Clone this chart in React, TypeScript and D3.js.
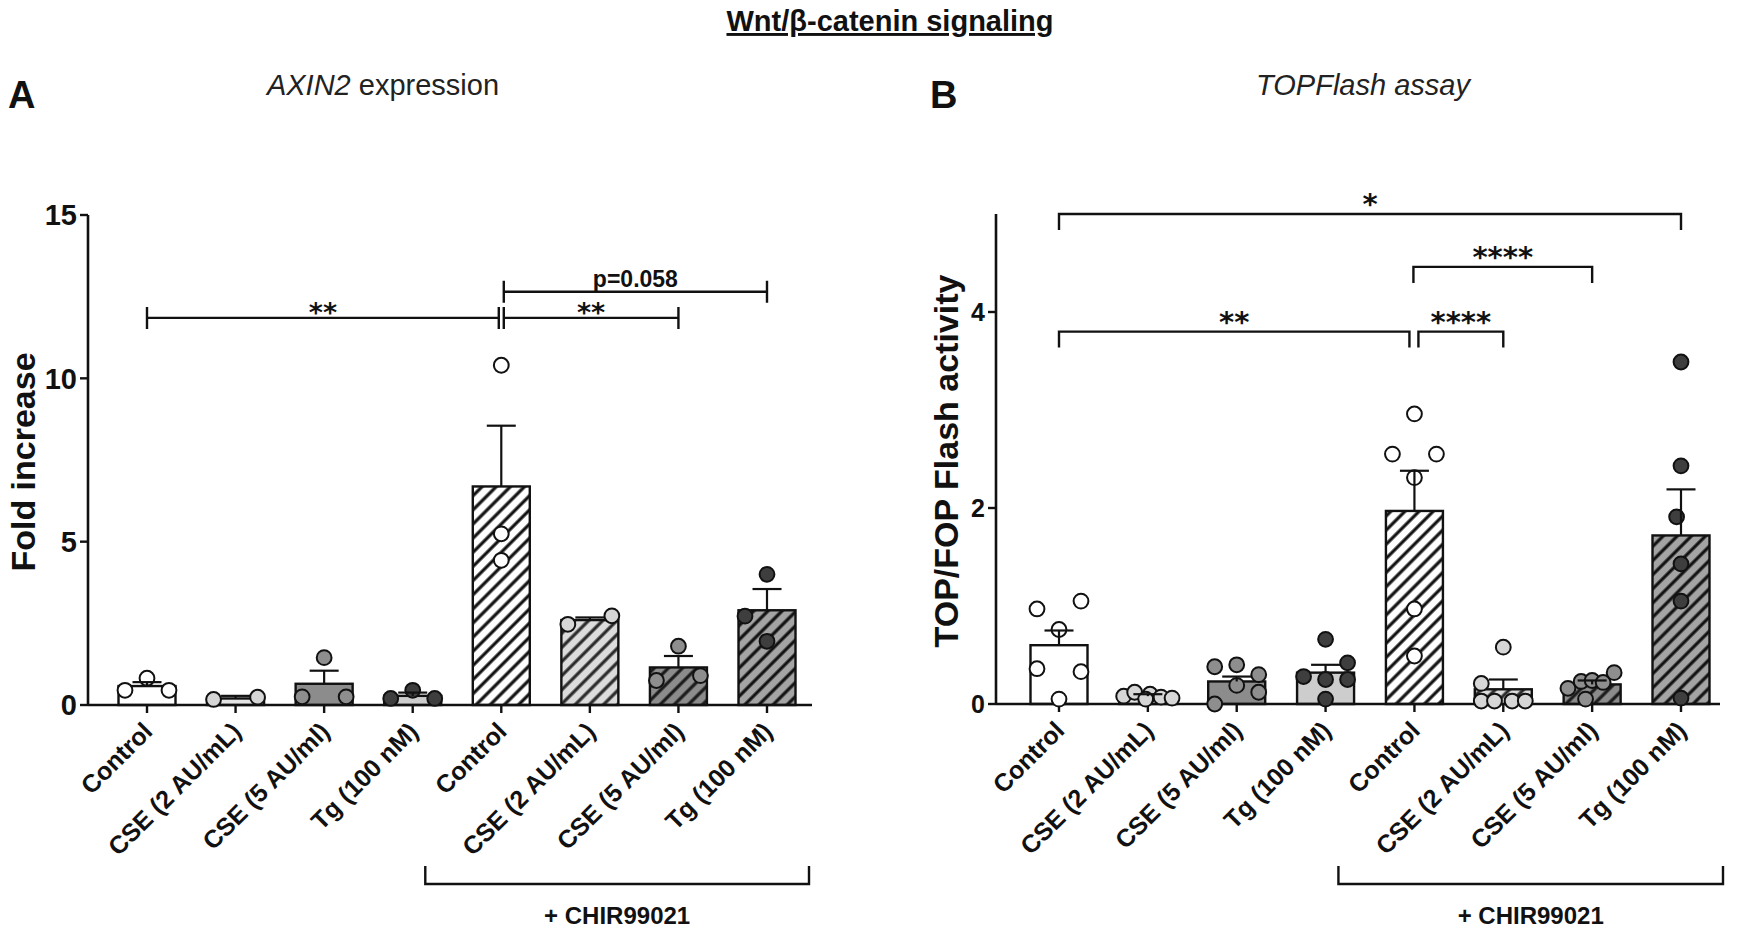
// Wnt/β-catenin signaling: AXIN2 expression (A) and TOPFlash assay (B)
// Prism-style bar + scatter + SEM charts drawn with d3 scales
import * as d3 from "d3"

const groups = ["Control", "CSE (2 AU/mL)", "CSE (5 AU/ml)", "Tg (100 nM)", "Control", "CSE (2 AU/mL)", "CSE (5 AU/ml)", "Tg (100 nM)"]

// Panel A: AXIN2 fold increase
const axinMean = [0.58, 0.2, 0.65, 0.28, 6.69, 2.6, 1.15, 2.9]
const axinSem = [0.12, 0.08, 0.4, 0.1, 1.86, 0.08, 0.35, 0.65]
const axinPoints = [
  [0.82, 0.45, 0.45],
  [0.17, 0.24],
  [1.45, 0.25, 0.25],
  [0.45, 0.2, 0.2],
  [10.4, 5.24, 4.43],
  [2.47, 2.73],
  [1.8, 0.75, 0.9],
  [4.0, 2.72, 1.95],
]
const axinSlots = [[0, -1, 1], [-1, 1], [0, -1, 1], [0, -1, 1], [0, 0, 0], [-1, 1], [0, -1, 1], [0, -1, 0]]
const axinTicks = [0, 5, 10, 15]

// Panel B: TOP/FOP flash activity
const topMean = [0.6, 0.08, 0.23, 0.32, 1.97, 0.15, 0.2, 1.72]
const topSem = [0.15, 0.02, 0.05, 0.08, 0.41, 0.1, 0.04, 0.47]
const topPoints = [
  [0.97, 1.05, 0.76, 0.36, 0.33, 0.05],
  [0.08, 0.12, 0.1, 0.05, 0.07, 0.06],
  [0.38, 0.4, 0.3, 0.19, 0.12, 0.0],
  [0.66, 0.42, 0.28, 0.25, 0.25, 0.05],
  [2.96, 2.55, 2.55, 2.31, 0.97, 0.49],
  [0.58, 0.21, 0.03, 0.03, 0.03, 0.03],
  [0.16, 0.23, 0.24, 0.22, 0.32, 0.05],
  [3.49, 2.43, 1.91, 1.43, 1.05, 0.06],
]
const topSlots = [
  [-1, 1, 0, -1, 1, 0],
  [-1.1, -0.6, 0.1, -0.1, 0.6, 1.1],
  [-1, 0, 1, 0, 1, -1],
  [0, 1, -1, 0, 1, 0],
  [0, -1, 1, 0, 0, 0],
  [0, -1, -1, -0.4, 0.4, 1],
  [-1.1, -0.5, 0, 0.5, 1.0, -0.3],
  [0, 0, -0.2, 0, 0, 0],
]
const topTicks = [0, 2, 4]

interface Bracket { from: number; to: number; y: number; label: string; fromNudge?: number; toNudge?: number }

const axinBrackets: Bracket[] = [
  { from: 0, to: 4, y: 11.85, label: "**", toNudge: -2.5 },
  { from: 4, to: 6, y: 11.85, label: "**", fromNudge: 2.5 },
  { from: 4, to: 7, y: 12.65, label: "p=0.058", fromNudge: 2.5 },
]
const topBrackets: Bracket[] = [
  { from: 0, to: 7, y: 5.0, label: "*" },
  { from: 4, to: 6, y: 4.46, label: "****", fromNudge: -1 },
  { from: 0, to: 4, y: 3.8, label: "**", toNudge: -5 },
  { from: 4, to: 5, y: 3.8, label: "****", fromNudge: 4 },
]

// styling per group
const barFill = ["#ffffff", "#e4e4e4", "#8c8c8c", "#cdcdcd", "url(#hatch-white)", "url(#hatch-light)", "url(#hatch-mid)", "url(#hatch-dark)"]
const dotFill = ["#ffffff", "#d6d6d6", "#8e8e8e", "#3e3e3e", "#ffffff", "#d6d6d6", "#8e8e8e", "#3e3e3e"]
const hatchBg = [["hatch-white", "#ffffff", "#111"], ["hatch-light", "#dcdcdc", "#2a2a2a"], ["hatch-mid", "#8c8c8c", "#1a1a1a"], ["hatch-dark", "#a4a4a4", "#111"]]

const FONT = '"Liberation Sans", Arial, Helvetica, sans-serif'
const STAR = '"DejaVu Sans", sans-serif'

interface PanelProps {
  means: number[]
  sems: number[]
  points: number[][]
  slots: number[][]
  ticks: number[]
  yMax: number
  yRange: [number, number]
  axisX: number
  xRange: [number, number]
  axisEnd: number
  tickFont: number
  brackets: Bracket[]
  bracketStyle: "cap" | "drop"
  yTitle: string
  yTitleX: number
}

function Panel(p: PanelProps) {
  const y = d3.scaleLinear().domain([0, p.yMax]).range(p.yRange)
  const x = d3.scalePoint<number>().domain(d3.range(groups.length)).range(p.xRange)
  const barW = 57
  const slotW = 22
  const base = y(0)
  const capW = 29
  const chirLeft = x(4)! - 76
  const chirRight = x(7)! + 42

  return (
    <g>
      {/* y axis */}
      <line x1={p.axisX} x2={p.axisX} y1={y(p.yMax)} y2={base} stroke="#111" strokeWidth={2.6} />
      {p.ticks.map(t => (
        <g key={t}>
          <line x1={p.axisX - 8} x2={p.axisX} y1={y(t)} y2={y(t)} stroke="#111" strokeWidth={2.4} />
          <text x={p.axisX - 11} y={y(t)} dy="0.36em" textAnchor="end" fontFamily={FONT} fontWeight="bold" fontSize={p.tickFont} fill="#111">{t}</text>
        </g>
      ))}
      <text transform={`translate(${p.yTitleX},${(y(p.yMax) + base) / 2 + 2}) rotate(-90)`} textAnchor="middle" fontFamily={FONT} fontWeight="bold" fontSize={34} fill="#111">{p.yTitle}</text>

      {/* bars */}
      {p.means.map((m, i) => (
        <rect key={i} x={x(i)! - barW / 2} y={y(m)} width={barW} height={base - y(m)} fill={barFill[i]} stroke="#111" strokeWidth={2.4} />
      ))}

      {/* x axis */}
      <line x1={p.axisX} x2={p.axisEnd} y1={base} y2={base} stroke="#111" strokeWidth={2.6} />
      {groups.map((g, i) => (
        <g key={i}>
          <line x1={x(i)} x2={x(i)} y1={base} y2={base + 8} stroke="#111" strokeWidth={2.4} />
          <text transform={`translate(${x(i)! + 7},${base + 28}) rotate(-45)`} textAnchor="end" fontFamily={FONT} fontWeight="bold" fontSize={25} fill="#111">{g}</text>
        </g>
      ))}

      {/* points */}
      {p.points.map((pts, i) => pts.map((v, j) => (
        <circle key={`${i}-${j}`} cx={x(i)! + p.slots[i][j] * slotW} cy={y(v)} r={7.4} fill={dotFill[i]} stroke="#111" strokeWidth={2} />
      )))}

      {/* SEM error bars (upper) */}
      {p.means.map((m, i) => (
        <g key={i} stroke="#111" strokeWidth={2.2}>
          <line x1={x(i)} x2={x(i)} y1={y(m)} y2={y(m + p.sems[i])} />
          <line x1={x(i)! - capW / 2} x2={x(i)! + capW / 2} y1={y(m + p.sems[i])} y2={y(m + p.sems[i])} />
        </g>
      ))}

      {/* significance brackets */}
      {p.brackets.map((b, k) => {
        const x1 = x(b.from)! + (b.fromNudge ?? 0)
        const x2 = x(b.to)! + (b.toNudge ?? 0)
        const by = y(b.y)
        const isStar = b.label.startsWith("*")
        const path = p.bracketStyle === "cap"
          ? `M${x1},${by - 11}V${by + 11}M${x1},${by}H${x2}M${x2},${by - 11}V${by + 11}`
          : `M${x1},${by + 16}V${by}H${x2}V${by + 16}`
        return (
          <g key={k}>
            <path d={path} fill="none" stroke="#111" strokeWidth={2.4} />
            <text
              x={(x1 + x2) / 2}
              y={isStar ? (p.bracketStyle === "cap" ? by + 4 : by) : by - 5}
              textAnchor="middle"
              fontFamily={isStar ? STAR : FONT}
              fontWeight="bold"
              fontSize={isStar ? (p.bracketStyle === "cap" ? 27 : 29) : 23}
              fill="#111"
            >{b.label}</text>
          </g>
        )
      })}

      {/* + CHIR99021 group bracket */}
      <path d={`M${chirLeft},866V884H${chirRight}V866`} fill="none" stroke="#111" strokeWidth={2.4} />
      <text x={(chirLeft + chirRight) / 2} y={924} textAnchor="middle" fontFamily={FONT} fontWeight="bold" fontSize={24} fill="#111">+ CHIR99021</text>
    </g>
  )
}

export default function App() {
  return (
    <svg width={1745} height={932} style={{ display: "block", position: "absolute", left: 0, top: 0, background: "#fff" }}>
      <defs>
        {hatchBg.map(([id, bg, ln]) => (
          <pattern key={id} id={id} patternUnits="userSpaceOnUse" width={10} height={10} patternTransform="rotate(45)">
            <rect width={10} height={10} fill={bg} />
            <line x1={5} x2={5} y1={-1} y2={11} stroke={ln} strokeWidth={3.2} />
          </pattern>
        ))}
      </defs>
      <rect width={1745} height={932} fill="#fff" />

      <text x={890} y={31} textAnchor="middle" fontFamily={FONT} fontWeight="bold" fontSize={29} fill="#111" textDecoration="underline">Wnt/β-catenin signaling</text>

      <text x={8} y={108} fontFamily={FONT} fontWeight="bold" fontSize={38} fill="#111">A</text>
      <text x={930} y={108} fontFamily={FONT} fontWeight="bold" fontSize={38} fill="#111">B</text>

      <text x={383} y={95} textAnchor="middle" fontFamily={FONT} fontSize={29} fill="#222">
        <tspan fontStyle="italic">AXIN2</tspan> expression
      </text>
      <text x={1363} y={95} textAnchor="middle" fontFamily={FONT} fontSize={29} fontStyle="italic" fill="#222">TOPFlash assay</text>

      <Panel
        means={axinMean} sems={axinSem} points={axinPoints} slots={axinSlots}
        ticks={axinTicks} yMax={15} yRange={[705, 215]}
        axisX={88} xRange={[147, 767]} axisEnd={812} tickFont={29}
        brackets={axinBrackets} bracketStyle="cap"
        yTitle="Fold increase" yTitleX={35}
      />
      <Panel
        means={topMean} sems={topSem} points={topPoints} slots={topSlots}
        ticks={topTicks} yMax={5} yRange={[704, 214]}
        axisX={996} xRange={[1059, 1681]} axisEnd={1720} tickFont={25}
        brackets={topBrackets} bracketStyle="drop"
        yTitle="TOP/FOP Flash activity" yTitleX={958}
      />
    </svg>
  )
}
